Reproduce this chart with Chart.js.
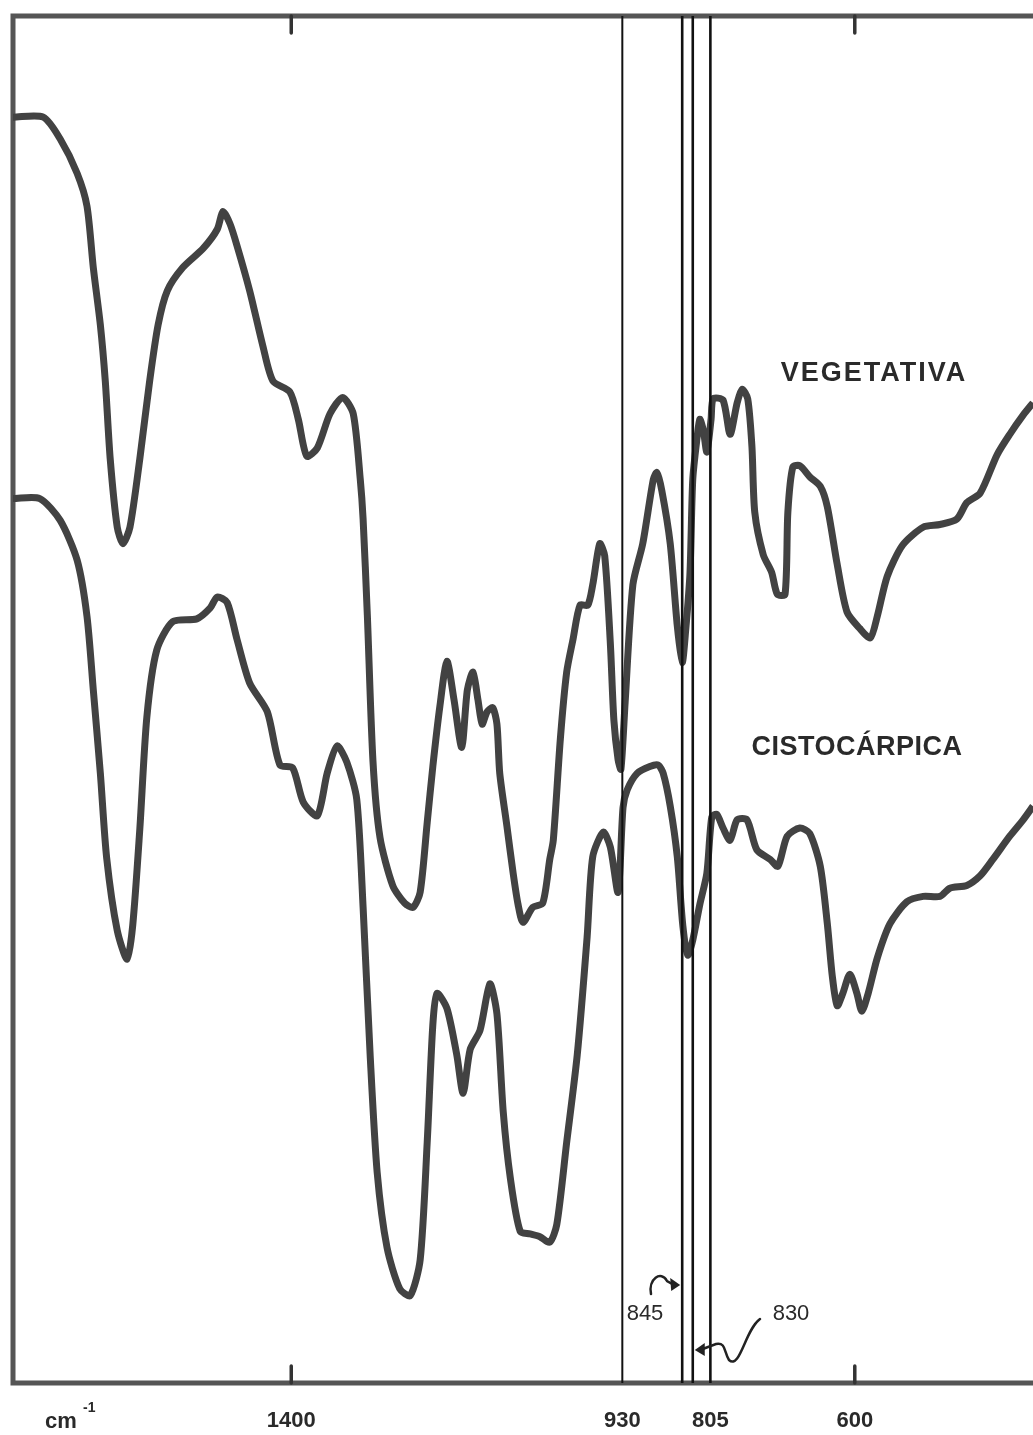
<!DOCTYPE html>
<html>
<head>
<meta charset="utf-8">
<script src="https://cdn.jsdelivr.net/npm/chart.js@4.4.1/dist/chart.umd.min.js"></script>
<style>
  html, body { margin: 0; padding: 0; background: #fff; }
  #wrap { width: 1033px; height: 1435px; }
</style>
</head>
<body>
<div id="wrap"><canvas id="spectrum"></canvas></div>
<script>
// IR spectra, wavenumber (cm-1) vs transmittance (%)
var vegWn = [1795,1752,1728,1704,1690,1681,1671,1664,1657,1647,1639,1629,1615,1601,1589,1576,1554,1525,1505,1497,
  1487,1477,1459,1440,1426,1402,1390,1378,1363,1345,1327,1312,1302,1298,1292,1284,1274,1256,1239,1227,
  1217,1207,1199,1189,1179,1169,1158,1150,1142,1135,1129,1122,1114,1108,1104,1094,1085,1078,1071,1057,
  1043,1033,1028,1018,1009,1000,990,979,972,962,955,947,942,936,932,926,915,901,886,881,
  874,862,852,845,840,834,830,824,820,815,810,804,801,787,777,767,760,752,746,742,
  730,718,710,699,695,688,678,664,649,639,625,611,593,578,568,554,532,503,479,455,
  441,422,398,380,361,347];
var vegT = [92.6,92.6,91.0,88.5,86.1,81.6,77.4,73.3,67.6,62.6,61.4,62.6,67.6,73.3,77.4,79.9,81.6,83.0,84.4,85.7,
  84.8,83.2,79.9,75.8,73.3,72.5,70.5,67.8,68.4,70.9,72.1,70.9,66.1,63.2,56.2,45.5,39.9,36.4,35.1,34.8,
  35.9,41.0,45.1,49.5,52.8,50.0,46.5,50.7,52.0,50.0,48.2,49.1,49.4,48.2,44.6,40.8,37.3,35.0,33.7,34.8,
  35.1,38.3,39.7,47.1,52.0,54.4,56.9,56.9,58.4,61.4,60.5,54.1,48.5,45.6,44.9,49.8,58.4,61.4,66.1,66.6,
  65.3,61.4,55.4,52.7,55.1,59.2,66.1,69.1,70.5,69.7,68.1,70.5,72.0,71.9,69.4,71.7,72.7,72.0,68.5,63.7,
  60.6,59.3,57.7,57.7,63.7,67.0,67.1,66.3,65.6,64.1,59.9,56.4,55.2,54.5,56.1,59.0,61.3,62.6,62.8,63.2,
  64.4,65.1,67.9,69.4,70.8,71.7];

var cistWn = [1795,1757,1728,1704,1690,1681,1671,1662,1647,1633,1625,1615,1605,1591,1568,1534,1515,1505,1491,1477,
  1459,1434,1416,1398,1383,1363,1349,1335,1321,1307,1298,1288,1278,1264,1246,1231,1217,1207,1199,1193,
  1179,1165,1156,1146,1132,1118,1108,1099,1089,1075,1061,1047,1033,1023,1009,994,980,972,957,947,
  936,929,923,909,891,879,872,862,852,844,837,830,820,810,803,796,787,777,767,753,
  739,720,709,696,678,664,649,639,632,625,617,607,597,590,581,568,550,526,503,479,
  465,441,422,404,380,361,347];
var cistT = [64.7,64.7,63.1,60.2,56.1,50.7,44.6,38.4,33.1,31.0,33.5,40.5,48.7,53.6,55.7,55.9,56.7,57.5,57.1,54.4,
  51.2,49.1,45.2,45.0,42.5,41.5,44.6,46.6,45.4,42.7,34.8,24.0,15.4,9.9,6.9,6.4,9.0,17.6,26.2,28.5,
  27.4,24.0,21.2,24.4,25.8,29.2,27.0,19.8,15.0,11.1,10.9,10.7,10.3,11.6,17.6,24.0,32.6,38.5,40.3,39.2,
  35.9,42.1,43.4,44.6,45.1,45.2,44.6,42.2,38.5,33.4,31.3,32.4,35.0,37.3,41.4,41.6,40.6,39.7,41.2,41.2,
  39.0,38.3,37.8,40.0,40.6,40.2,37.8,33.6,29.8,27.6,28.5,29.9,28.5,27.2,28.5,31.1,33.6,35.2,35.6,35.6,
  36.2,36.4,37.1,38.3,40.0,41.2,42.2];

var markerWn = [930, 845, 830, 805];   // vertical reference lines
var tickWn = [1400, 930, 805, 600];    // labelled axis values
var minorTickWn = [1400, 600];         // short inner tick marks

function toPoints(xs, ys) {
  return xs.map(function (x, i) { return { x: x, y: ys[i] }; });
}

var curveColor = '#424242';

var datasets = [
  {
    label: 'VEGETATIVA',
    data: toPoints(vegWn, vegT),
    borderColor: curveColor,
    borderWidth: 7,
    tension: 0.25,
    pointRadius: 0,
    order: 2
  },
  {
    label: 'CISTOCÁRPICA',
    data: toPoints(cistWn, cistT),
    borderColor: curveColor,
    borderWidth: 7,
    tension: 0.25,
    pointRadius: 0,
    order: 2
  }
];

markerWn.forEach(function (w) {
  datasets.push({
    label: String(w),
    data: [{ x: w, y: 0 }, { x: w, y: 100 }],
    borderColor: '#111',
    borderWidth: w === 930 ? 2 : 2.6,
    pointRadius: 0,
    order: 1
  });
});

// frame, inner ticks, text labels and arrows
var decorPlugin = {
  id: 'decor',
  beforeDatasetsDraw: function (chart) {
    var a = chart.chartArea, ctx = chart.ctx, xs = chart.scales.x;
    ctx.save();
    ctx.strokeStyle = '#555';
    ctx.lineWidth = 5;
    ctx.beginPath();
    ctx.moveTo(chart.width + 10, a.top);
    ctx.lineTo(a.left, a.top);
    ctx.lineTo(a.left, a.bottom);
    ctx.lineTo(chart.width + 10, a.bottom);
    ctx.stroke();

    ctx.strokeStyle = '#333';
    ctx.lineWidth = 3.5;
    ctx.lineCap = 'round';
    minorTickWn.forEach(function (w) {
      var px = xs.getPixelForValue(w);
      ctx.beginPath();
      ctx.moveTo(px, a.top);
      ctx.lineTo(px, a.top + 17);
      ctx.moveTo(px, a.bottom);
      ctx.lineTo(px, a.bottom - 17);
      ctx.stroke();
    });
    ctx.restore();
  },
  afterDraw: function (chart) {
    var ctx = chart.ctx, xs = chart.scales.x;
    ctx.save();
    ctx.fillStyle = '#2a2a2a';
    ctx.textAlign = 'center';
    ctx.textBaseline = 'middle';
    ctx.font = 'bold 27px "Liberation Sans", Arial, sans-serif';
    ctx.letterSpacing = '2px';
    ctx.fillText('VEGETATIVA', 874, 374);
    ctx.letterSpacing = '0.5px';
    ctx.fillText('CISTOCÁRPICA', 857, 748);
    ctx.letterSpacing = '0px';

    // axis unit
    ctx.textAlign = 'left';
    ctx.textBaseline = 'alphabetic';
    ctx.font = 'bold 22px "Liberation Sans", Arial, sans-serif';
    ctx.fillText('cm', 45, 1428);
    ctx.font = 'bold 14px "Liberation Sans", Arial, sans-serif';
    ctx.fillText('-1', 83, 1412);

    // peak annotations
    ctx.textAlign = 'center';
    ctx.textBaseline = 'middle';
    ctx.font = '22px "Liberation Sans", Arial, sans-serif';
    ctx.fillText('845', 645, 1314);
    ctx.fillText('830', 791, 1314);

    var x845 = xs.getPixelForValue(845);
    var x830 = xs.getPixelForValue(830);
    ctx.strokeStyle = '#222';
    ctx.fillStyle = '#222';
    ctx.lineWidth = 2.5;
    ctx.lineCap = 'round';

    ctx.beginPath();
    ctx.moveTo(651, 1294);
    ctx.bezierCurveTo(648, 1279, 661, 1270, 667, 1281);
    ctx.lineTo(x845 - 10, 1284);
    ctx.stroke();
    ctx.beginPath();
    ctx.moveTo(x845 - 2, 1285);
    ctx.lineTo(x845 - 12, 1278);
    ctx.lineTo(x845 - 11, 1291);
    ctx.closePath();
    ctx.fill();

    ctx.beginPath();
    ctx.moveTo(760, 1319);
    ctx.bezierCurveTo(745, 1330, 740, 1370, 729, 1360);
    ctx.bezierCurveTo(724, 1352, 726, 1342, 716, 1344);
    ctx.lineTo(x830 + 10, 1349);
    ctx.stroke();
    ctx.beginPath();
    ctx.moveTo(x830 + 2, 1350);
    ctx.lineTo(x830 + 12, 1343);
    ctx.lineTo(x830 + 12, 1356);
    ctx.closePath();
    ctx.fill();
    ctx.restore();
  }
};

new Chart(document.getElementById('spectrum'), {
  type: 'line',
  data: { datasets: datasets },
  options: {
    responsive: true,
    maintainAspectRatio: false,
    animation: false,
    layout: { padding: { left: 13, top: 16, right: 0, bottom: 0 } },
    plugins: {
      legend: { display: false },
      tooltip: { enabled: false }
    },
    scales: {
      x: {
        type: 'linear',
        reverse: true,
        min: 347,
        max: 1795,
        grid: { display: false, drawTicks: false },
        border: { display: false },
        afterBuildTicks: function (scale) {
          scale.ticks = tickWn.map(function (v) { return { value: v }; });
        },
        afterFit: function (scale) { scale.height = 52; },
        ticks: {
          autoSkip: false,
          maxRotation: 0,
          padding: 25,
          color: '#2a2a2a',
          font: { family: '"Liberation Sans", Arial, sans-serif', size: 22, weight: 'bold' },
          callback: function (v) { return String(v); }
        }
      },
      y: {
        display: false,
        min: 0,
        max: 100
      }
    }
  },
  plugins: [decorPlugin]
});
</script>
</body>
</html>
